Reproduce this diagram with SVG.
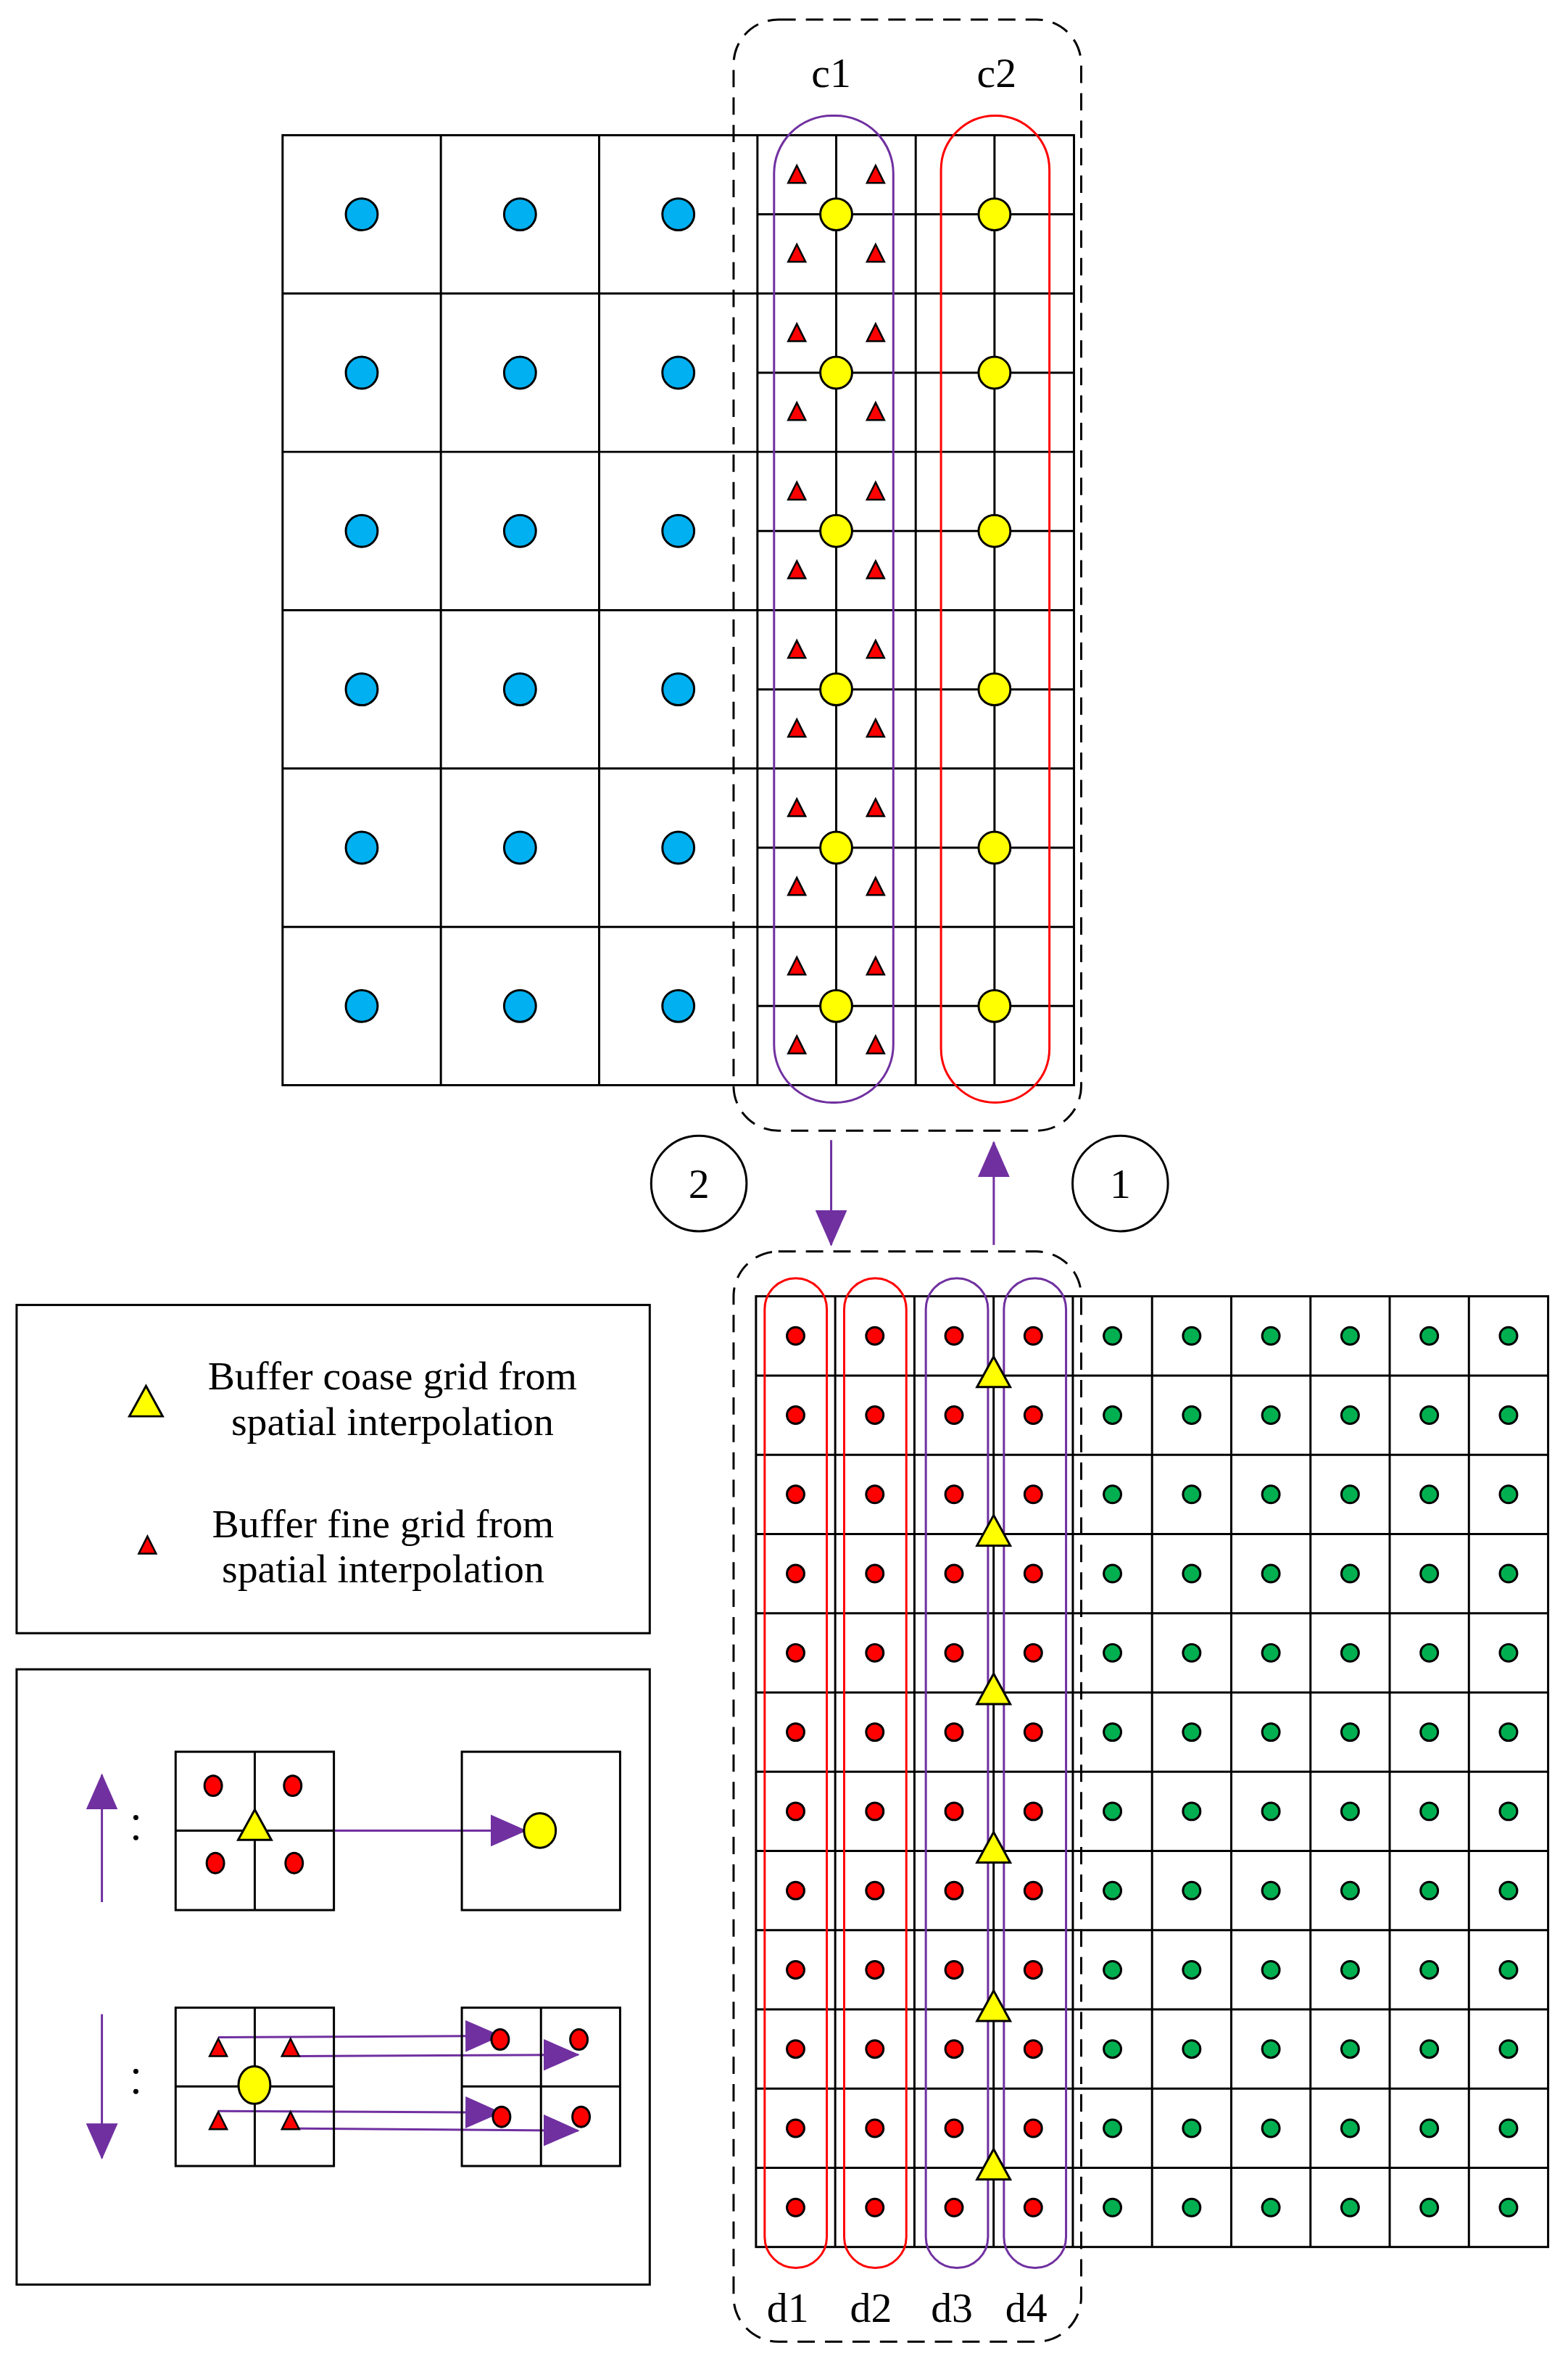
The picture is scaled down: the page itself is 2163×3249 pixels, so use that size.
<svg xmlns="http://www.w3.org/2000/svg" xmlns:xlink="http://www.w3.org/1999/xlink" width="2163" height="3249" viewBox="0 0 2163 3249">
<style>
.g{stroke:#000;stroke-width:3;fill:none}
.dash{stroke:#000;stroke-width:3;fill:none;stroke-dasharray:24 14}
.pl{stroke:#7030a0;stroke-width:3;fill:none}
.rl{stroke:#ff0000;stroke-width:3;fill:none}
.ar{stroke:#7030a0;stroke-width:3;fill:none;marker-end:url(#ah)}
.t{font-family:"Liberation Serif",serif;fill:#000}
</style>
<defs>
<marker id="ah" markerUnits="userSpaceOnUse" markerWidth="50" markerHeight="44" refX="48" refY="22" orient="auto"><path d="M0,0 L50,22 L0,44 Z" fill="#7030a0"/></marker>
<circle id="blue" r="22" fill="#00b0f0" stroke="#000" stroke-width="3"/>
<circle id="yc" r="22" fill="#ffff00" stroke="#000" stroke-width="3"/>
<path id="rt" d="M0,-13 L12,11 L-12,11 Z" fill="#ff0000" stroke="#000" stroke-width="2.5"/>
<circle id="rd" r="12" fill="#ff0000" stroke="#000" stroke-width="3"/>
<circle id="gd" r="12" fill="#00b050" stroke="#000" stroke-width="3"/>
<path id="yt" d="M0,-26 L23,16 L-23,16 Z" fill="#ffff00" stroke="#000" stroke-width="3"/>
</defs>
<g transform="scale(0.997)">
<g id="top-grid">
<rect class="g" x="391" y="187" width="1095" height="1314"/>
<path class="g" d="M610,187V1501M829,187V1501M1048,187V1501M1267,187V1501M1157,187V1501M1376,187V1501M391,406H1486M391,625H1486M391,844H1486M391,1063H1486M391,1282H1486M1048,296.5H1486M1048,515.5H1486M1048,734.5H1486M1048,953.5H1486M1048,1172.5H1486M1048,1391.5H1486"/>
<g id="blue-points">
<use href="#blue" x="500.5" y="296.5"/><use href="#blue" x="719.5" y="296.5"/><use href="#blue" x="938.5" y="296.5"/>
<use href="#blue" x="500.5" y="515.5"/><use href="#blue" x="719.5" y="515.5"/><use href="#blue" x="938.5" y="515.5"/>
<use href="#blue" x="500.5" y="734.5"/><use href="#blue" x="719.5" y="734.5"/><use href="#blue" x="938.5" y="734.5"/>
<use href="#blue" x="500.5" y="953.5"/><use href="#blue" x="719.5" y="953.5"/><use href="#blue" x="938.5" y="953.5"/>
<use href="#blue" x="500.5" y="1172.5"/><use href="#blue" x="719.5" y="1172.5"/><use href="#blue" x="938.5" y="1172.5"/>
<use href="#blue" x="500.5" y="1391.5"/><use href="#blue" x="719.5" y="1391.5"/><use href="#blue" x="938.5" y="1391.5"/>
</g>
<g id="red-triangles-top">
<use href="#rt" x="1102.5" y="242"/><use href="#rt" x="1211.5" y="242"/><use href="#rt" x="1102.5" y="351"/><use href="#rt" x="1211.5" y="351"/>
<use href="#rt" x="1102.5" y="461"/><use href="#rt" x="1211.5" y="461"/><use href="#rt" x="1102.5" y="570"/><use href="#rt" x="1211.5" y="570"/>
<use href="#rt" x="1102.5" y="680"/><use href="#rt" x="1211.5" y="680"/><use href="#rt" x="1102.5" y="789"/><use href="#rt" x="1211.5" y="789"/>
<use href="#rt" x="1102.5" y="899"/><use href="#rt" x="1211.5" y="899"/><use href="#rt" x="1102.5" y="1008"/><use href="#rt" x="1211.5" y="1008"/>
<use href="#rt" x="1102.5" y="1118"/><use href="#rt" x="1211.5" y="1118"/><use href="#rt" x="1102.5" y="1227"/><use href="#rt" x="1211.5" y="1227"/>
<use href="#rt" x="1102.5" y="1337"/><use href="#rt" x="1211.5" y="1337"/><use href="#rt" x="1102.5" y="1446"/><use href="#rt" x="1211.5" y="1446"/>
</g>
<g id="yellow-points">
<use href="#yc" x="1157" y="296.5"/><use href="#yc" x="1376" y="296.5"/>
<use href="#yc" x="1157" y="515.5"/><use href="#yc" x="1376" y="515.5"/>
<use href="#yc" x="1157" y="734.5"/><use href="#yc" x="1376" y="734.5"/>
<use href="#yc" x="1157" y="953.5"/><use href="#yc" x="1376" y="953.5"/>
<use href="#yc" x="1157" y="1172.5"/><use href="#yc" x="1376" y="1172.5"/>
<use href="#yc" x="1157" y="1391.5"/><use href="#yc" x="1376" y="1391.5"/>
</g>
</g>

<g id="c1"><rect class="pl" x="1071" y="160" width="165" height="1365" rx="80"/><text class="t" x="1150" y="120" font-size="58" text-anchor="middle">c1</text></g>
<g id="c2"><rect class="rl" x="1302" y="160" width="150" height="1365" rx="75"/><text class="t" x="1379" y="120" font-size="58" text-anchor="middle">c2</text></g>
<g id="top-box"><rect class="dash" x="1015" y="27" width="481" height="1537" rx="62"/></g>

<g id="step2"><circle class="g" cx="967" cy="1637" r="66"/><text class="t" x="967" y="1657" font-size="58" text-anchor="middle">2</text></g>
<g id="step1"><circle class="g" cx="1550" cy="1637" r="66"/><text class="t" x="1550" y="1657" font-size="58" text-anchor="middle">1</text></g>

<g id="bottom-grid">
<rect class="g" x="1046" y="1793" width="1096" height="1315"/>
<path class="g" d="M1155.6,1793V3108M1265.2,1793V3108M1374.8,1793V3108M1484.4,1793V3108M1594,1793V3108M1703.6,1793V3108M1813.2,1793V3108M1922.8,1793V3108M2032.4,1793V3108M1046,1902.6H2142M1046,2012.2H2142M1046,2121.8H2142M1046,2231.4H2142M1046,2341H2142M1046,2450.6H2142M1046,2560.2H2142M1046,2669.8H2142M1046,2779.4H2142M1046,2889H2142M1046,2998.6H2142"/>
<g id="dots">
<use href="#rd" x="1100.8" y="1847.8"/><use href="#rd" x="1210.4" y="1847.8"/><use href="#rd" x="1320" y="1847.8"/><use href="#rd" x="1429.6" y="1847.8"/><use href="#gd" x="1539.2" y="1847.8"/><use href="#gd" x="1648.8" y="1847.8"/><use href="#gd" x="1758.4" y="1847.8"/><use href="#gd" x="1868" y="1847.8"/><use href="#gd" x="1977.6" y="1847.8"/><use href="#gd" x="2087.2" y="1847.8"/>
<use href="#rd" x="1100.8" y="1957.4"/><use href="#rd" x="1210.4" y="1957.4"/><use href="#rd" x="1320" y="1957.4"/><use href="#rd" x="1429.6" y="1957.4"/><use href="#gd" x="1539.2" y="1957.4"/><use href="#gd" x="1648.8" y="1957.4"/><use href="#gd" x="1758.4" y="1957.4"/><use href="#gd" x="1868" y="1957.4"/><use href="#gd" x="1977.6" y="1957.4"/><use href="#gd" x="2087.2" y="1957.4"/>
<use href="#rd" x="1100.8" y="2067"/><use href="#rd" x="1210.4" y="2067"/><use href="#rd" x="1320" y="2067"/><use href="#rd" x="1429.6" y="2067"/><use href="#gd" x="1539.2" y="2067"/><use href="#gd" x="1648.8" y="2067"/><use href="#gd" x="1758.4" y="2067"/><use href="#gd" x="1868" y="2067"/><use href="#gd" x="1977.6" y="2067"/><use href="#gd" x="2087.2" y="2067"/>
<use href="#rd" x="1100.8" y="2176.6"/><use href="#rd" x="1210.4" y="2176.6"/><use href="#rd" x="1320" y="2176.6"/><use href="#rd" x="1429.6" y="2176.6"/><use href="#gd" x="1539.2" y="2176.6"/><use href="#gd" x="1648.8" y="2176.6"/><use href="#gd" x="1758.4" y="2176.6"/><use href="#gd" x="1868" y="2176.6"/><use href="#gd" x="1977.6" y="2176.6"/><use href="#gd" x="2087.2" y="2176.6"/>
<use href="#rd" x="1100.8" y="2286.2"/><use href="#rd" x="1210.4" y="2286.2"/><use href="#rd" x="1320" y="2286.2"/><use href="#rd" x="1429.6" y="2286.2"/><use href="#gd" x="1539.2" y="2286.2"/><use href="#gd" x="1648.8" y="2286.2"/><use href="#gd" x="1758.4" y="2286.2"/><use href="#gd" x="1868" y="2286.2"/><use href="#gd" x="1977.6" y="2286.2"/><use href="#gd" x="2087.2" y="2286.2"/>
<use href="#rd" x="1100.8" y="2395.8"/><use href="#rd" x="1210.4" y="2395.8"/><use href="#rd" x="1320" y="2395.8"/><use href="#rd" x="1429.6" y="2395.8"/><use href="#gd" x="1539.2" y="2395.8"/><use href="#gd" x="1648.8" y="2395.8"/><use href="#gd" x="1758.4" y="2395.8"/><use href="#gd" x="1868" y="2395.8"/><use href="#gd" x="1977.6" y="2395.8"/><use href="#gd" x="2087.2" y="2395.8"/>
<use href="#rd" x="1100.8" y="2505.4"/><use href="#rd" x="1210.4" y="2505.4"/><use href="#rd" x="1320" y="2505.4"/><use href="#rd" x="1429.6" y="2505.4"/><use href="#gd" x="1539.2" y="2505.4"/><use href="#gd" x="1648.8" y="2505.4"/><use href="#gd" x="1758.4" y="2505.4"/><use href="#gd" x="1868" y="2505.4"/><use href="#gd" x="1977.6" y="2505.4"/><use href="#gd" x="2087.2" y="2505.4"/>
<use href="#rd" x="1100.8" y="2615"/><use href="#rd" x="1210.4" y="2615"/><use href="#rd" x="1320" y="2615"/><use href="#rd" x="1429.6" y="2615"/><use href="#gd" x="1539.2" y="2615"/><use href="#gd" x="1648.8" y="2615"/><use href="#gd" x="1758.4" y="2615"/><use href="#gd" x="1868" y="2615"/><use href="#gd" x="1977.6" y="2615"/><use href="#gd" x="2087.2" y="2615"/>
<use href="#rd" x="1100.8" y="2724.6"/><use href="#rd" x="1210.4" y="2724.6"/><use href="#rd" x="1320" y="2724.6"/><use href="#rd" x="1429.6" y="2724.6"/><use href="#gd" x="1539.2" y="2724.6"/><use href="#gd" x="1648.8" y="2724.6"/><use href="#gd" x="1758.4" y="2724.6"/><use href="#gd" x="1868" y="2724.6"/><use href="#gd" x="1977.6" y="2724.6"/><use href="#gd" x="2087.2" y="2724.6"/>
<use href="#rd" x="1100.8" y="2834.2"/><use href="#rd" x="1210.4" y="2834.2"/><use href="#rd" x="1320" y="2834.2"/><use href="#rd" x="1429.6" y="2834.2"/><use href="#gd" x="1539.2" y="2834.2"/><use href="#gd" x="1648.8" y="2834.2"/><use href="#gd" x="1758.4" y="2834.2"/><use href="#gd" x="1868" y="2834.2"/><use href="#gd" x="1977.6" y="2834.2"/><use href="#gd" x="2087.2" y="2834.2"/>
<use href="#rd" x="1100.8" y="2943.8"/><use href="#rd" x="1210.4" y="2943.8"/><use href="#rd" x="1320" y="2943.8"/><use href="#rd" x="1429.6" y="2943.8"/><use href="#gd" x="1539.2" y="2943.8"/><use href="#gd" x="1648.8" y="2943.8"/><use href="#gd" x="1758.4" y="2943.8"/><use href="#gd" x="1868" y="2943.8"/><use href="#gd" x="1977.6" y="2943.8"/><use href="#gd" x="2087.2" y="2943.8"/>
<use href="#rd" x="1100.8" y="3053.4"/><use href="#rd" x="1210.4" y="3053.4"/><use href="#rd" x="1320" y="3053.4"/><use href="#rd" x="1429.6" y="3053.4"/><use href="#gd" x="1539.2" y="3053.4"/><use href="#gd" x="1648.8" y="3053.4"/><use href="#gd" x="1758.4" y="3053.4"/><use href="#gd" x="1868" y="3053.4"/><use href="#gd" x="1977.6" y="3053.4"/><use href="#gd" x="2087.2" y="3053.4"/>
</g>
<g id="d-loops">
<rect class="rl" x="1058" y="1768" width="86" height="1369" rx="43"/>
<rect class="rl" x="1168" y="1768" width="86" height="1369" rx="43"/>
<rect class="pl" x="1281" y="1768" width="86" height="1369" rx="43"/>
<rect class="pl" x="1389" y="1768" width="86" height="1369" rx="43"/>
</g>
<g id="yellow-triangles">
<use href="#yt" x="1374.8" y="1902.6"/><use href="#yt" x="1374.8" y="2121.8"/><use href="#yt" x="1374.8" y="2341"/><use href="#yt" x="1374.8" y="2560.2"/><use href="#yt" x="1374.8" y="2779.4"/><use href="#yt" x="1374.8" y="2998.6"/>
</g>
<text class="t" x="1090" y="3212" font-size="58" text-anchor="middle">d1</text>
<text class="t" x="1205" y="3212" font-size="58" text-anchor="middle">d2</text>
<text class="t" x="1317" y="3212" font-size="58" text-anchor="middle">d3</text>
<text class="t" x="1420" y="3212" font-size="58" text-anchor="middle">d4</text>
</g>
<g id="bottom-box"><rect class="dash" x="1015" y="1731" width="481" height="1508" rx="62"/></g>

<g id="connectors">
<line class="ar" x1="1150" y1="1577" x2="1150" y2="1722"/>
<line class="ar" x1="1375" y1="1722" x2="1375" y2="1580"/>
<line class="ar" x1="462" y1="2532" x2="727" y2="2532"/>
<line class="ar" x1="141" y1="2631" x2="141" y2="2455"/>
<line class="ar" x1="141" y1="2786" x2="141" y2="2985"/>
<line class="ar" x1="302" y1="2818" x2="692" y2="2816"/>
<line class="ar" x1="414" y1="2844" x2="800" y2="2842"/>
<line class="ar" x1="302" y1="2920" x2="692" y2="2922"/>
<line class="ar" x1="414" y1="2944" x2="800" y2="2947"/>
</g>

<g id="legend-symbols">
<rect class="g" x="23" y="1805" width="876" height="454"/>
<use href="#yt" x="202" y="1943"/>
<text class="t" x="543" y="1922" font-size="56" text-anchor="middle">Buffer coase grid from</text>
<text class="t" x="543" y="1985" font-size="56" text-anchor="middle">spatial interpolation</text>
<use href="#rt" x="204" y="2138"/>
<text class="t" x="530" y="2126" font-size="56" text-anchor="middle">Buffer fine grid from</text>
<text class="t" x="530" y="2189" font-size="56" text-anchor="middle">spatial interpolation</text>
</g>

<g id="legend-process">
<rect class="g" x="23" y="2309" width="876" height="851"/>
<rect class="g" x="243" y="2423" width="219" height="219"/>
<path class="g" d="M352.5,2423V2642M243,2532H462"/>
<ellipse cx="295" cy="2470" rx="12" ry="14" fill="#ff0000" stroke="#000" stroke-width="3"/>
<ellipse cx="405" cy="2470" rx="12" ry="14" fill="#ff0000" stroke="#000" stroke-width="3"/>
<ellipse cx="298" cy="2577" rx="12" ry="14" fill="#ff0000" stroke="#000" stroke-width="3"/>
<ellipse cx="407" cy="2577" rx="12" ry="14" fill="#ff0000" stroke="#000" stroke-width="3"/>
<use href="#yt" x="352.5" y="2529"/>
<rect class="g" x="639" y="2423" width="219" height="219"/>
<ellipse cx="747" cy="2532" rx="22" ry="24" fill="#ffff00" stroke="#000" stroke-width="3"/>
<circle cx="188" cy="2514" r="3.5" fill="#000"/><circle cx="188" cy="2542" r="3.5" fill="#000"/>

<rect class="g" x="243" y="2777" width="219" height="219"/>
<path class="g" d="M352.5,2777V2996M243,2886H462"/>
<use href="#rt" x="302" y="2833"/><use href="#rt" x="402" y="2833"/>
<use href="#rt" x="302" y="2934"/><use href="#rt" x="402" y="2934"/>
<ellipse cx="352" cy="2884" rx="22" ry="26" fill="#ffff00" stroke="#000" stroke-width="3"/>
<rect class="g" x="639" y="2777" width="219" height="219"/>
<path class="g" d="M748.5,2777V2996M639,2886H858"/>
<ellipse cx="692" cy="2821" rx="12" ry="14" fill="#ff0000" stroke="#000" stroke-width="3"/>
<ellipse cx="801" cy="2821" rx="12" ry="14" fill="#ff0000" stroke="#000" stroke-width="3"/>
<ellipse cx="694" cy="2928" rx="12" ry="14" fill="#ff0000" stroke="#000" stroke-width="3"/>
<ellipse cx="804" cy="2928" rx="12" ry="14" fill="#ff0000" stroke="#000" stroke-width="3"/>
<circle cx="188" cy="2865" r="3.5" fill="#000"/><circle cx="188" cy="2893" r="3.5" fill="#000"/>
</g>
</g>
</svg>
